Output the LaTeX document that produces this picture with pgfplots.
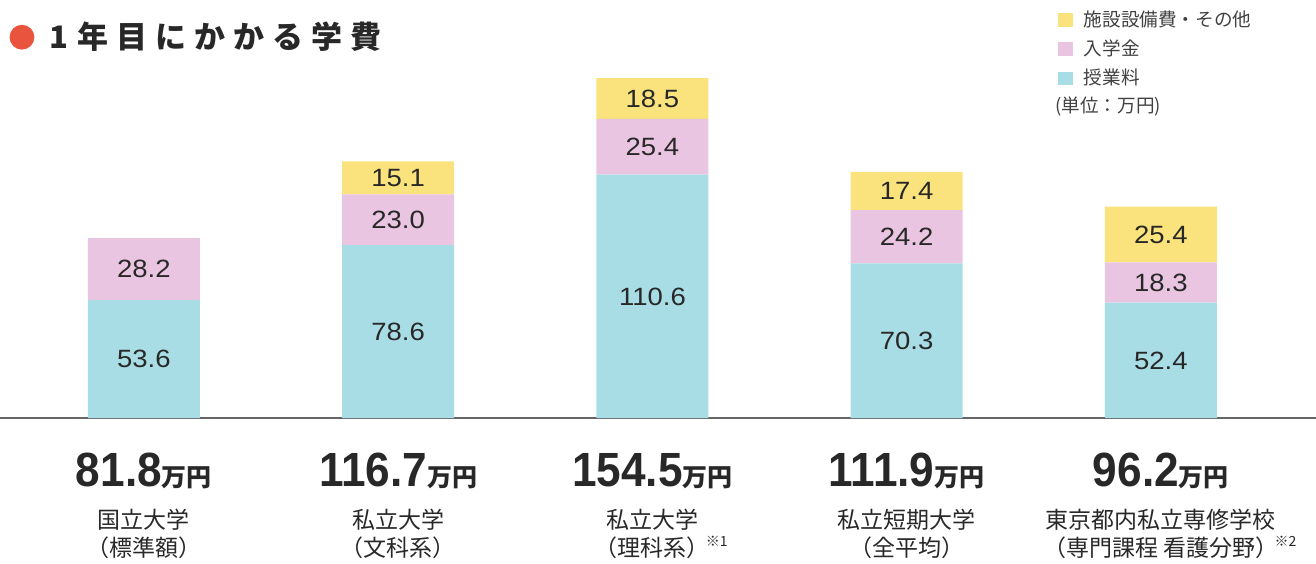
\documentclass[border=0pt]{standalone}
\usepackage{fontspec}
\usepackage{pgfplots}
\usepackage{pgfplotstable}
\pgfplotsset{compat=1.18}
\setmainfont{Liberation Sans}
\newfontfamily\jp{Noto Sans CJK JP}
\newfontfamily\numb[FakeStretch=0.92]{Liberation Sans}
\newfontfamily\segfont[FakeStretch=1.1]{Liberation Sans}
\definecolor{cyanbar}{RGB}{168,221,229}
\definecolor{pinkbar}{RGB}{233,197,226}
\definecolor{yellowbar}{RGB}{250,227,125}
\definecolor{dotred}{RGB}{232,84,62}
\definecolor{txt}{RGB}{40,40,40}

\pgfplotstableread{
x tuition entrance facility
0 53.6 28.2 0
1 78.6 23.0 15.1
2 110.6 25.4 18.5
3 70.3 24.2 17.4
4 52.4 18.3 25.4
}\data

\newcommand{\tot}[1]{{\numb\bfseries\fontsize{24}{24}\selectfont #1}{\jp\bfseries\fontsize{12.5}{12.5}\selectfont 万円}}
\newcommand{\note}[1]{\rlap{\hspace{-2pt}\raisebox{0.8ex}{\fontsize{7}{7}\selectfont ※#1}}}
\newcommand{\seglabel}{%
  \pgfmathfloatifflags{\pgfplotspointmeta}{0}{}{%
    \raisebox{-4.45pt}{\pgfmathprintnumber[fixed,fixed zerofill,precision=1]{\pgfplotspointmeta}}}}

\begin{document}
\begin{tikzpicture}
\path[use as bounding box] (0,0) rectangle (658pt,281.5pt);
\begin{axis}[
  at={(0pt,72.5pt)}, anchor=south west,
  scale only axis, width=658pt, height=209pt,
  xmin=-0.566, xmax=4.610, ymin=0, ymax=190,
  enlargelimits=false,
  axis y line=none, axis x line=bottom,
  axis line style={-, draw=black!60, line width=0.65pt},
  xtick=\empty, ytick=\empty,
  ybar stacked, bar width=0.4405,
  clip=false,
  point meta=explicit,
  /pgf/number format/assume math mode=true,
  nodes near coords={\seglabel},
  every node near coord/.append style={anchor=base, inner sep=0pt, font=\segfont\fontsize{12.5}{12.5}\selectfont, text=txt},
  legend image code/.code={\fill[#1] (0pt,-3.3pt) rectangle (7.5pt,3.3pt);},
  reverse legend,
  legend cell align=left,
  legend style={at={(axis description cs:0.8036,0.985)}, anchor=north west, draw=none, fill=none, inner sep=0pt,
    font=\jp\fontsize{9.3}{11}\selectfont, text=black!75, row sep=1.2pt,
    /tikz/every odd column/.append style={column sep=3.5pt}},
]
\addplot[fill=cyanbar, draw=none] table[x=x, y=tuition, meta=tuition]{\data};
\addplot[fill=pinkbar, draw=none] table[x=x, y=entrance, meta=entrance]{\data};
\addplot[fill=yellowbar, draw=none] table[x=x, y=facility, meta=facility]{\data};
\legend{授業料, 入学金, 施設設備費・その他}

\node[anchor=west, inner sep=0pt, font=\jp\fontsize{9.3}{11}\selectfont, text=black!75] at (axis description cs:0.8017,0.746) {(単位：万円)};

\fill[dotred] (axis description cs:0.0167,0.911) circle (6.2pt);
\node[anchor=west, font=\jp\bfseries\fontsize{15.5}{16}\selectfont, text=txt] at (axis description cs:0.0325,0.913)
  {1\hspace{4.5pt}年\hspace{4pt}目\hspace{4pt}に\hspace{4pt}か\hspace{4pt}か\hspace{4pt}る\hspace{4pt}学\hspace{4pt}費};

\node[anchor=base, text=txt, yshift=-34pt] at (axis cs:0,0) {\tot{81.8}};
\node[anchor=base, text=txt, yshift=-34pt] at (axis cs:1,0) {\tot{116.7}};
\node[anchor=base, text=txt, yshift=-34pt] at (axis cs:2,0) {\tot{154.5}};
\node[anchor=base, text=txt, yshift=-34pt] at (axis cs:3,0) {\tot{111.9}};
\node[anchor=base, text=txt, yshift=-34pt] at (axis cs:4,0) {\tot{96.2}};
\node[align=center, font=\jp\fontsize{11.5}{14}\selectfont, text=txt, yshift=-58pt] at (axis cs:0,0) {国立大学\\（標準額）};
\node[align=center, font=\jp\fontsize{11.5}{14}\selectfont, text=txt, yshift=-58pt] at (axis cs:1,0) {私立大学\\（文科系）};
\node[align=center, font=\jp\fontsize{11.5}{14}\selectfont, text=txt, yshift=-58pt] at (axis cs:2,0) {私立大学\\（理科系）\note{1}};
\node[align=center, font=\jp\fontsize{11.5}{14}\selectfont, text=txt, yshift=-58pt] at (axis cs:3,0) {私立短期大学\\（全平均）};
\node[align=center, font=\jp\fontsize{11.5}{14}\selectfont, text=txt, yshift=-58pt] at (axis cs:4,0) {東京都内私立専修学校\\（専門課程 看護分野）\note{2}};
\end{axis}
\end{tikzpicture}
\end{document}
